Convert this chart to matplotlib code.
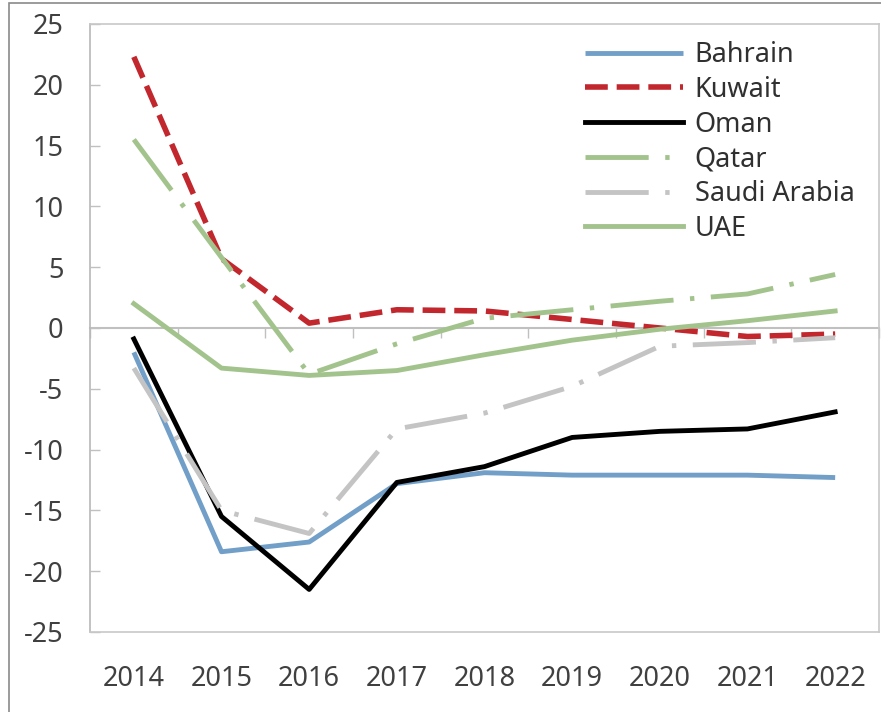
import matplotlib
matplotlib.use("Agg")
import matplotlib.pyplot as plt
from matplotlib.patches import Rectangle
import numpy as np

years = ["2014", "2015", "2016", "2017", "2018", "2019", "2020", "2021", "2022"]
bahrain = [-2.0, -18.4, -17.6, -12.8, -11.9, -12.1, -12.1, -12.1, -12.3]
kuwait = [22.3, 5.7, 0.4, 1.5, 1.4, 0.7, 0.0, -0.7, -0.5]
oman = [-0.9, -15.5, -21.5, -12.7, -11.4, -9.0, -8.5, -8.3, -6.9]
qatar = [15.5, 5.8, -3.8, -1.3, 0.8, 1.5, 2.2, 2.8, 4.4]
saudi = [-3.3, -15.0, -16.9, -8.3, -7.0, -4.8, -1.5, -1.2, -0.8]
uae = [2.0, -3.3, -3.9, -3.5, -2.2, -1.0, -0.1, 0.6, 1.4]
y_ticks = [-25, -20, -15, -10, -5, 0, 5, 10, 15, 20, 25]

plt.rcParams['font.family'] = ['Noto Sans', 'DejaVu Sans']
FS = 19.5

fig = plt.figure(figsize=(8.81, 7.12), dpi=100)
W, H = 881, 712
ax = fig.add_axes([90 / W, 1 - 632 / H, (879 - 90) / W, (632 - 24) / H])

x = np.arange(len(years))
green = '#a3c38d'
LW = 3.5
dashdot = (0, (13, 3.4, 0.9, 3.4))
ax.plot(x, bahrain, color='#729fc8', lw=LW, label='Bahrain', solid_capstyle='butt')
ax.plot(x, kuwait, color='#c1272d', lw=4.0, ls=(0, (4.1, 1.6)), label='Kuwait')
ax.plot(x, oman, color='#000000', lw=LW, label='Oman')
ax.plot(x, qatar, color=green, lw=LW, ls=dashdot, label='Qatar')
ax.plot(x, saudi, color='#c4c4c4', lw=LW, ls=dashdot, label='Saudi Arabia')
ax.plot(x, uae, color=green, lw=LW, label='UAE')

ax.set_xlim(-0.5, len(years) - 0.5)
ax.set_ylim(-25, 25)
ax.set_yticks(y_ticks)
ax.set_yticklabels([str(v) for v in y_ticks], fontsize=FS, color='#404040')
ax.set_xticks(x)
ax.set_xticklabels(years, fontsize=FS, color='#404040')
ax.tick_params(axis='x', length=0, pad=24)
ax.tick_params(axis='y', direction='in', length=7, width=1, color='#c0c0c0', pad=19)
for s in ax.spines.values():
    s.set_color('#c8c8c8')
    s.set_linewidth(1.2)
ax.spines['left'].set_color('#b8b8b8')

# horizontal category axis crossing at zero
sec = ax.secondary_xaxis(0.5)
sec.set_xticks(np.arange(len(years) + 1) - 0.5)
sec.set_xticklabels([])
sec.tick_params(direction='in', length=7, width=1, color='#c0c0c0')
for s in sec.spines.values():
    s.set_color('#c0c0c0')
    s.set_linewidth(1.5)

leg = ax.legend(loc='upper left', bbox_to_anchor=((585 - 90) / 789, (632 - 41) / 608),
                frameon=False, fontsize=FS, handlelength=3.6, handletextpad=0.45,
                labelspacing=0.25, borderpad=0, borderaxespad=0)
for t in leg.get_texts():
    t.set_color('#303030')

fig.patches.append(Rectangle((9 / W, -0.1), 1.2, 1 - 3 / H + 0.1, transform=fig.transFigure,
                             fill=False, edgecolor='#8a8a8a', lw=1.2))

fig.savefig('out.png', dpi=100)
